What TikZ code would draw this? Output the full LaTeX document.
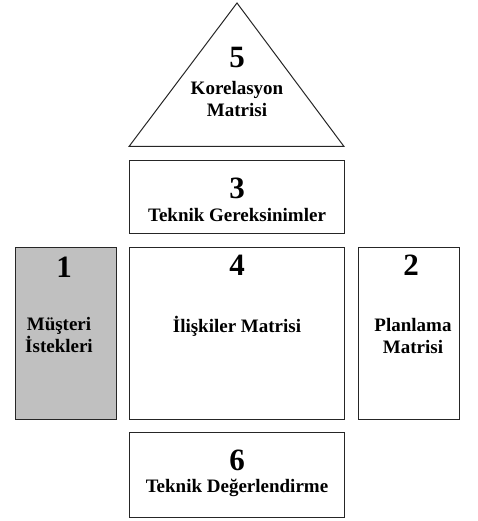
\documentclass[tikz,border=0pt]{standalone}
\usepackage{fontspec}
\setmainfont{Liberation Serif}
\begin{document}
\begin{tikzpicture}[
    x=1pt, y=-1pt,
    kutu/.style={draw=black!85, line width=1pt, minimum width=#1, inner sep=0pt},
    kutu/.default=215pt,
    numara/.style={font=\bfseries\fontsize{31}{32}\selectfont},
    etiket/.style={font=\bfseries\fontsize{19}{22}\selectfont, align=center}
]
    \useasboundingbox (0,0) rectangle (477,521);

    % korelasyon matrisi (cati)
    \coordinate (tepe) at (237,3);
    \coordinate (sag) at (344,146.5);
    \coordinate (sol) at (129,146.5);
    \draw[line width=1pt, draw=black!85] (tepe) -- (sag) -- (sol) -- cycle;
    \node[numara] (n5) at (237,58) {5};
    \node[etiket] (e5) at (237,99) {Korelasyon\\Matrisi};

    \node[kutu, minimum height=72pt] (teknik) at (236.5,197) {};
    \node[kutu=101pt, minimum height=172pt, fill={rgb,255:red,192;green,192;blue,192}] (musteri) at (65.5,333) {};
    \node[kutu, minimum height=172pt] (iliski) at (236.5,333) {};
    \node[kutu=101pt, minimum height=172pt] (planlama) at (408.5,333) {};
    \node[kutu, minimum height=85pt] (deger) at (236.5,475) {};

    \node[numara] (n3) at (237,188) {3};
    \node[etiket] (e3) at (237,215) {Teknik Gereksinimler};
    \node[numara] (n1) at (64,267) {1};
    \node[etiket] (e1) at (59,335) {Müşteri\\İstekleri};
    \node[numara] (n4) at (237,265) {4};
    \node[etiket] (e4) at (237,326) {İlişkiler Matrisi};
    \node[numara] (n2) at (411,265) {2};
    \node[etiket] (e2) at (413,336) {Planlama\\Matrisi};
    \node[numara] (n6) at (237,460) {6};
    \node[etiket] (e6) at (237,488) {Teknik Değerlendirme};
\end{tikzpicture}
\end{document}
